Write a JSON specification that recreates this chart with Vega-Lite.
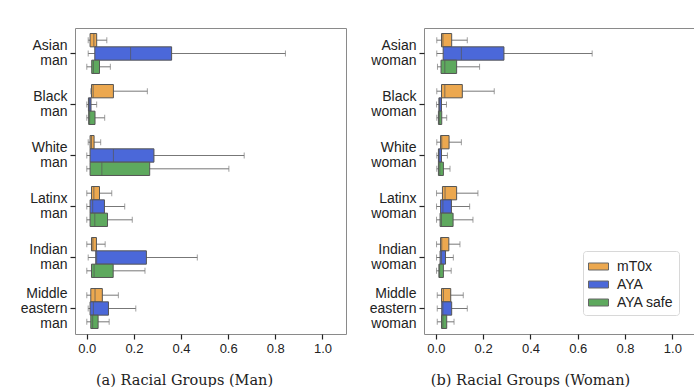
{
  "$schema": "https://vega.github.io/schema/vega-lite/v6.json",
  "padding": {"left": 18, "top": 27, "right": 0, "bottom": 0},
  "autosize": {"type": "pad"},
  "background": "white",
  "config": {
    "font": "Liberation Sans",
    "view": {"stroke": "#8a8a8a", "strokeWidth": 1},
    "axis": {"labelColor": "#222", "tickColor": "#222", "tickWidth": 1.2, "labelFontSize": 13, "grid": false, "domain": false},
    "axisX": {"values": [0, 0.2, 0.4, 0.6, 0.8, 1.0], "format": ".1f", "tickSize": 5, "labelPadding": 3,
      "titleFont": "DejaVu Serif", "titleFontSize": 14.5, "titleFontWeight": "normal", "titleColor": "#222", "titleX": 109, "titleY": 46, "titleBaseline": "middle", "titleAlign": "center"},
    "axisY": {"title": null, "labelFontSize": 14, "labelLineHeight": 15, "tickSize": 5, "labelPadding": 3, "minExtent": 56, "maxExtent": 56}
  },
  "datasets": {
    "man": [
      {"group": "Asian man", "model": "mT0x", "lo": 0.006, "q1": 0.014, "med": 0.03, "q3": 0.042, "hi": 0.085},
      {"group": "Asian man", "model": "AYA", "lo": 0.006, "q1": 0.034, "med": 0.186, "q3": 0.36, "hi": 0.843},
      {"group": "Asian man", "model": "AYA safe", "lo": 0.0, "q1": 0.021, "med": 0.028, "q3": 0.054, "hi": 0.1},
      {"group": "Black man", "model": "mT0x", "lo": 0.017, "q1": 0.02, "med": 0.027, "q3": 0.113, "hi": 0.257},
      {"group": "Black man", "model": "AYA", "lo": 0.0, "q1": 0.007, "med": 0.012, "q3": 0.018, "hi": 0.042},
      {"group": "Black man", "model": "AYA safe", "lo": 0.0, "q1": 0.008, "med": 0.012, "q3": 0.035, "hi": 0.076},
      {"group": "White man", "model": "mT0x", "lo": 0.006, "q1": 0.014, "med": 0.02, "q3": 0.031, "hi": 0.059},
      {"group": "White man", "model": "AYA", "lo": 0.0, "q1": 0.014, "med": 0.113, "q3": 0.285, "hi": 0.668},
      {"group": "White man", "model": "AYA safe", "lo": 0.0, "q1": 0.014, "med": 0.064, "q3": 0.267, "hi": 0.603},
      {"group": "Latinx man", "model": "mT0x", "lo": 0.0, "q1": 0.02, "med": 0.03, "q3": 0.054, "hi": 0.106},
      {"group": "Latinx man", "model": "AYA", "lo": 0.0, "q1": 0.014, "med": 0.025, "q3": 0.075, "hi": 0.161},
      {"group": "Latinx man", "model": "AYA safe", "lo": 0.0, "q1": 0.014, "med": 0.034, "q3": 0.088, "hi": 0.193},
      {"group": "Indian man", "model": "mT0x", "lo": 0.0, "q1": 0.02, "med": 0.026, "q3": 0.041, "hi": 0.078},
      {"group": "Indian man", "model": "AYA", "lo": 0.006, "q1": 0.038, "med": 0.042, "q3": 0.253, "hi": 0.469},
      {"group": "Indian man", "model": "AYA safe", "lo": 0.0, "q1": 0.02, "med": 0.031, "q3": 0.112, "hi": 0.247},
      {"group": "Middle eastern man", "model": "mT0x", "lo": 0.0, "q1": 0.017, "med": 0.035, "q3": 0.066, "hi": 0.134},
      {"group": "Middle eastern man", "model": "AYA", "lo": 0.006, "q1": 0.014, "med": 0.028, "q3": 0.092, "hi": 0.208},
      {"group": "Middle eastern man", "model": "AYA safe", "lo": 0.0, "q1": 0.017, "med": 0.025, "q3": 0.048, "hi": 0.095}
    ],
    "woman": [
      {"group": "Asian woman", "model": "mT0x", "lo": 0.004, "q1": 0.024, "med": 0.03, "q3": 0.067, "hi": 0.133},
      {"group": "Asian woman", "model": "AYA", "lo": 0.004, "q1": 0.031, "med": 0.108, "q3": 0.288, "hi": 0.661},
      {"group": "Asian woman", "model": "AYA safe", "lo": 0.007, "q1": 0.022, "med": 0.038, "q3": 0.088, "hi": 0.185},
      {"group": "Black woman", "model": "mT0x", "lo": 0.004, "q1": 0.024, "med": 0.038, "q3": 0.112, "hi": 0.247},
      {"group": "Black woman", "model": "AYA", "lo": 0.003, "q1": 0.013, "med": 0.016, "q3": 0.024, "hi": 0.045},
      {"group": "Black woman", "model": "AYA safe", "lo": 0.004, "q1": 0.011, "med": 0.016, "q3": 0.025, "hi": 0.046},
      {"group": "White woman", "model": "mT0x", "lo": 0.004, "q1": 0.02, "med": 0.025, "q3": 0.056, "hi": 0.108},
      {"group": "White woman", "model": "AYA", "lo": 0.004, "q1": 0.011, "med": 0.014, "q3": 0.024, "hi": 0.049},
      {"group": "White woman", "model": "AYA safe", "lo": 0.004, "q1": 0.011, "med": 0.017, "q3": 0.032, "hi": 0.06},
      {"group": "Latinx woman", "model": "mT0x", "lo": 0.003, "q1": 0.028, "med": 0.039, "q3": 0.088, "hi": 0.178},
      {"group": "Latinx woman", "model": "AYA", "lo": 0.003, "q1": 0.02, "med": 0.03, "q3": 0.066, "hi": 0.143},
      {"group": "Latinx woman", "model": "AYA safe", "lo": 0.003, "q1": 0.018, "med": 0.024, "q3": 0.073, "hi": 0.157},
      {"group": "Indian woman", "model": "mT0x", "lo": 0.003, "q1": 0.02, "med": 0.025, "q3": 0.055, "hi": 0.102},
      {"group": "Indian woman", "model": "AYA", "lo": 0.003, "q1": 0.018, "med": 0.024, "q3": 0.041, "hi": 0.074},
      {"group": "Indian woman", "model": "AYA safe", "lo": 0.003, "q1": 0.013, "med": 0.016, "q3": 0.032, "hi": 0.065},
      {"group": "Middle eastern woman", "model": "mT0x", "lo": 0.006, "q1": 0.024, "med": 0.032, "q3": 0.063, "hi": 0.116},
      {"group": "Middle eastern woman", "model": "AYA", "lo": 0.006, "q1": 0.025, "med": 0.03, "q3": 0.067, "hi": 0.133},
      {"group": "Middle eastern woman", "model": "AYA safe", "lo": 0.006, "q1": 0.024, "med": 0.03, "q3": 0.046, "hi": 0.077}
    ]
  },
  "resolve": {"scale": {"color": "independent"}, "legend": {"color": "independent"}},
  "spacing": 20,
  "hconcat": [
    {
      "width": 271, "height": 306,
      "data": {"name": "man"},
      "encoding": {
        "y": {"field": "group", "type": "nominal", "sort": ["Asian man", "Black man", "White man", "Latinx man", "Indian man", "Middle eastern man"],
          "scale": {"paddingInner": 0, "paddingOuter": 0},
          "axis": {"labelExpr": "split(datum.label, ' ')",
            "labelOffset": {"condition": {"test": "indexof(datum.label, 'Middle') >= 0", "value": -15}, "value": -7.5}}},
        "yOffset": {"field": "model", "type": "nominal", "sort": ["mT0x", "AYA", "AYA safe"], "scale": {"paddingInner": 0, "paddingOuter": 0.415}}
      },
      "layer": [
        {"mark": {"type": "rule", "color": "#777", "strokeWidth": 1},
          "encoding": {"x": {"field": "lo", "type": "quantitative", "scale": {"domain": [-0.05, 1.1], "nice": false, "zero": false},
            "axis": {"title": "(a) Racial Groups (Man)"}},
            "x2": {"field": "hi"}}},
        {"mark": {"type": "bar", "stroke": "#555", "strokeWidth": 1},
          "encoding": {"x": {"field": "q1", "type": "quantitative", "axis": {"title": "(a) Racial Groups (Man)"}}, "x2": {"field": "q3"},
            "color": {"field": "model", "type": "nominal", "scale": {"domain": ["mT0x", "AYA", "AYA safe"], "range": ["#eca84f", "#4b68d9", "#5ea95e"]}, "legend": null}}},
        {"mark": {"type": "tick", "color": "#555", "thickness": 1, "size": 13},
          "encoding": {"x": {"field": "med", "type": "quantitative", "axis": {"title": "(a) Racial Groups (Man)"}}}},
        {"mark": {"type": "tick", "color": "#777", "thickness": 1, "size": 6},
          "encoding": {"x": {"field": "lo", "type": "quantitative", "axis": {"title": "(a) Racial Groups (Man)"}}}},
        {"mark": {"type": "tick", "color": "#777", "thickness": 1, "size": 6},
          "encoding": {"x": {"field": "hi", "type": "quantitative", "axis": {"title": "(a) Racial Groups (Man)"}}}}
      ]
    },
    {
      "width": 272, "height": 306,
      "data": {"name": "woman"},
      "encoding": {
        "y": {"field": "group", "type": "nominal", "sort": ["Asian woman", "Black woman", "White woman", "Latinx woman", "Indian woman", "Middle eastern woman"],
          "scale": {"paddingInner": 0, "paddingOuter": 0},
          "axis": {"labelExpr": "split(datum.label, ' ')",
            "labelOffset": {"condition": {"test": "indexof(datum.label, 'Middle') >= 0", "value": -15}, "value": -7.5}}},
        "yOffset": {"field": "model", "type": "nominal", "sort": ["mT0x", "AYA", "AYA safe"], "scale": {"paddingInner": 0, "paddingOuter": 0.415}}
      },
      "layer": [
        {"mark": {"type": "rule", "color": "#777", "strokeWidth": 1},
          "encoding": {"x": {"field": "lo", "type": "quantitative", "scale": {"domain": [-0.05, 1.1], "nice": false, "zero": false},
            "axis": {"title": "(b) Racial Groups (Woman)", "titleX": 106}},
            "x2": {"field": "hi"}}},
        {"mark": {"type": "bar", "stroke": "#555", "strokeWidth": 1},
          "encoding": {"x": {"field": "q1", "type": "quantitative", "axis": {"title": "(b) Racial Groups (Woman)", "titleX": 106}}, "x2": {"field": "q3"},
            "color": {"field": "model", "type": "nominal", "scale": {"domain": ["mT0x", "AYA", "AYA safe"], "range": ["#eca84f", "#4b68d9", "#5ea95e"]},
              "legend": {"title": null, "orient": "none", "legendX": 159, "legendY": 223, "labelFontSize": 14, "labelColor": "#222",
                "symbolType": "M-1,-0.35L1,-0.35L1,0.35L-1,0.35Z", "symbolSize": 400, "symbolStrokeColor": "#666", "symbolStrokeWidth": 1, "symbolOpacity": 1,
                "strokeColor": "#d8d8d8", "fillColor": "white", "cornerRadius": 3, "padding": 5, "rowPadding": -1, "labelOffset": 8}}}},
        {"mark": {"type": "tick", "color": "#555", "thickness": 1, "size": 13},
          "encoding": {"x": {"field": "med", "type": "quantitative", "axis": {"title": "(b) Racial Groups (Woman)", "titleX": 106}}}},
        {"mark": {"type": "tick", "color": "#777", "thickness": 1, "size": 6},
          "encoding": {"x": {"field": "lo", "type": "quantitative", "axis": {"title": "(b) Racial Groups (Woman)", "titleX": 106}}}},
        {"mark": {"type": "tick", "color": "#777", "thickness": 1, "size": 6},
          "encoding": {"x": {"field": "hi", "type": "quantitative", "axis": {"title": "(b) Racial Groups (Woman)", "titleX": 106}}}}
      ]
    }
  ]
}
